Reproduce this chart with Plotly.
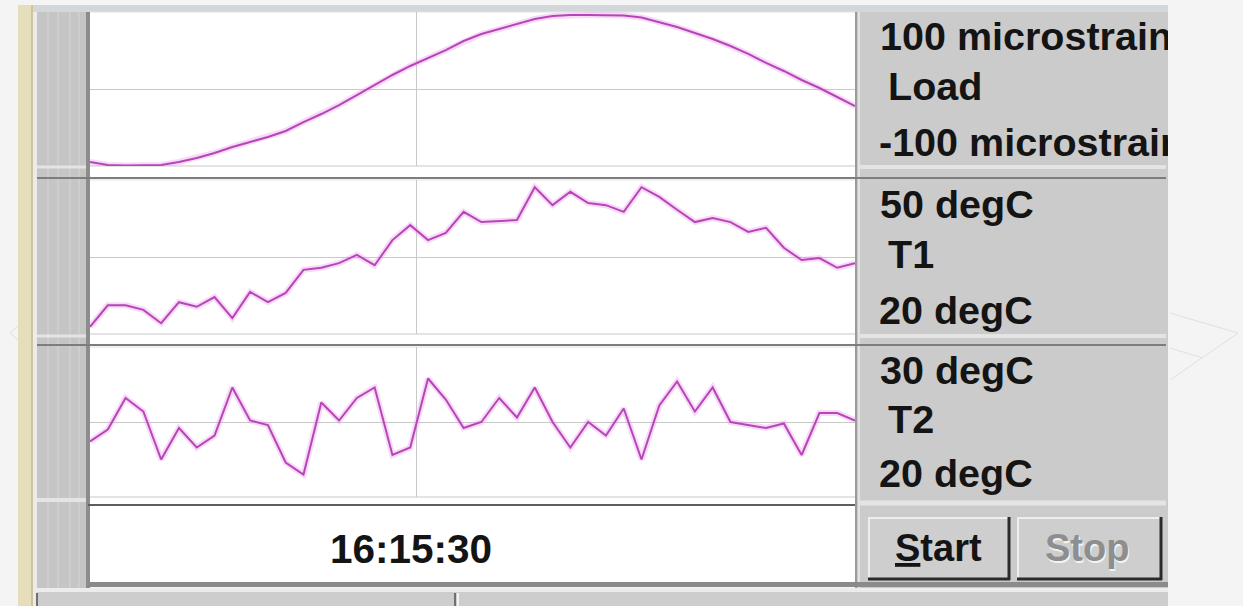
import plotly.graph_objects as go

# ---- recorded samples (one per second) ----
SAMPLE_T = list(range(44))
CURSOR_T = 18.35
CURSOR_LABEL = "16:15:30"

LOAD = [-94.8, -98.7, -99.4, -99.4, -98.7, -94.8, -89.6, -83.1, -75.3, -68.8,
        -62.3, -54.5, -42.9, -32.5, -20.8, -7.8, 5.2, 18.2, 29.9, 40.3,
        50.6, 62.3, 71.4, 77.9, 84.4, 90.9, 94.8, 96.1, 96.1, 96.1,
        95.5, 92.9, 87.0, 80.5, 72.7, 64.9, 55.8, 45.5, 33.8, 23.4,
        11.7, 1.3, -10.4, -22.1]
T1 = [21.4, 25.6, 25.6, 24.7, 22.1, 26.2, 25.3, 27.2, 23.1, 28.2,
      26.2, 28.0, 32.5, 32.9, 33.8, 35.4, 33.4, 38.3, 41.2, 38.3,
      39.7, 43.8, 41.8, 42.0, 42.2, 48.6, 45.1, 47.7, 45.5, 45.1,
      43.8, 48.6, 46.7, 44.2, 41.8, 42.6, 41.8, 39.9, 40.7, 36.8,
      34.4, 34.8, 32.9, 33.8]
T2 = [23.7, 24.5, 26.6, 25.7, 22.5, 24.6, 23.3, 24.1, 27.3, 25.1,
      24.8, 22.3, 21.5, 26.3, 25.1, 26.6, 27.3, 22.8, 23.3, 27.9,
      26.5, 24.6, 25.0, 26.6, 25.3, 27.3, 25.0, 23.3, 25.0, 24.1,
      25.9, 22.5, 26.1, 27.7, 25.7, 27.3, 25.0, 24.8, 24.6, 24.9,
      22.8, 25.6, 25.6, 25.1]

LOAD_RANGE = [-100, 100]
T1_RANGE = [20, 50]
T2_RANGE = [20, 30]

LOAD_LABELS = ["100 microstrain", "Load", "-100 microstrain"]
T1_LABELS = ["50 degC", "T1", "20 degC"]
T2_LABELS = ["30 degC", "T2", "20 degC"]

BUTTONS = ["Start", "Stop"]

# ---- page geometry (pixels) ----
W, H = 1243, 606
PLOT_X0, PLOT_X1 = 90, 855
SIDE_X0, SIDE_X1 = 857, 1168
STRIPS = [(12, 166), (180, 334), (347, 497)]   # top, bottom of each strip
LABEL_ROWS = [0.82, 0.49, 0.13]
LABEL_X = [23, 31, 22]

TRACE = "#b845b8"
HALO = "rgba(232,150,232,0.35)"
GRID = "#c9c9c9"
FONT = "Liberation Sans"


def px(x):
    return x / W


def py(y):
    return 1 - y / H


channels = [
    (LOAD, LOAD_RANGE, LOAD_LABELS),
    (T1, T1_RANGE, T1_LABELS),
    (T2, T2_RANGE, T2_LABELS),
]

fig = go.Figure()
layout_axes = {}

for i, (vals, rng, labels) in enumerate(channels):
    n = i + 1
    sfx = "" if n == 1 else str(n)
    top, bot = STRIPS[i]
    # trace with a soft glow underneath
    fig.add_trace(go.Scatter(x=SAMPLE_T, y=vals, mode="lines", xaxis="x" + sfx, yaxis="y" + sfx,
                             line=dict(color=HALO, width=6), hoverinfo="skip", showlegend=False))
    fig.add_trace(go.Scatter(x=SAMPLE_T, y=vals, mode="lines", xaxis="x" + sfx, yaxis="y" + sfx,
                             line=dict(color=TRACE, width=2), showlegend=False))
    layout_axes["xaxis" + sfx] = dict(
        domain=[px(PLOT_X0), px(PLOT_X1)], range=[SAMPLE_T[0], SAMPLE_T[-1]],
        anchor="y" + sfx, tickvals=[CURSOR_T], showticklabels=False, ticks="",
        showgrid=True, gridcolor=GRID, gridwidth=1, zeroline=False, showline=False,
        fixedrange=True)
    layout_axes["yaxis" + sfx] = dict(
        domain=[py(bot), py(top)], range=rng, anchor="x" + sfx,
        tickvals=[rng[0], (rng[0] + rng[1]) / 2, rng[1]], showticklabels=False, ticks="",
        showgrid=True, gridcolor=GRID, gridwidth=1, zeroline=False, showline=False,
        fixedrange=True)

    # scale / channel labels in the side panel, clipped at its edge
    ly = 4 + i
    fig.add_trace(go.Scatter(x=LABEL_X, y=LABEL_ROWS, text=labels, mode="text",
                             textposition="middle right", cliponaxis=True,
                             textfont=dict(family=FONT, size=39.5, color="#141414", weight="bold"),
                             xaxis="x4", yaxis="y" + str(ly), hoverinfo="skip", showlegend=False))
    layout_axes["yaxis" + str(ly)] = dict(
        domain=[py(bot), py(top)], range=[0, 1], anchor="x4", showgrid=False,
        showticklabels=False, zeroline=False, showline=False, ticks="", fixedrange=True)

layout_axes["xaxis4"] = dict(domain=[px(SIDE_X0), px(SIDE_X1)], range=[0, SIDE_X1 - SIDE_X0],
                             anchor="y4", showgrid=False, showticklabels=False, zeroline=False,
                             showline=False, ticks="", fixedrange=True)

shapes = []


def rect(x0, y0, x1, y1, fill, layer="below"):
    shapes.append(dict(type="rect", xref="paper", yref="paper", x0=px(x0), x1=px(x1),
                       y0=py(y1), y1=py(y0), fillcolor=fill, line=dict(width=0), layer=layer))


def seg(x0, y0, x1, y1, color, width=1, layer="below"):
    shapes.append(dict(type="line", xref="paper", yref="paper", x0=px(x0), x1=px(x1),
                       y0=py(y0), y1=py(y1), line=dict(color=color, width=width), layer=layer))


# window frame
rect(18, 5, 33, 606, "#e6ddba")
rect(31, 5, 33, 606, "#cfc49c")
rect(33, 5, 37, 606, "#ebebeb")
rect(33, 5, 1168, 12, "#d3d6db")
rect(37, 12, 88, 592, "#c5c5c5")
for sx in (48, 58, 70, 79):
    seg(sx, 12, sx, 590, "#cdcdcd", 2)
rect(86, 12, 90, 588, "#8c8c8c")
rect(90, 12, PLOT_X1, 583, "#ffffff")
rect(PLOT_X1, 12, 1168, 592, "#cbcbcb")
seg(PLOT_X1 + 1, 12, PLOT_X1 + 1, 590, "#9a9a9a", 2)
seg(PLOT_X1 + 4, 12, PLOT_X1 + 4, 590, "#e2e2e2", 2)

# outer grid lines of each strip (the axes leave the edge ones out)
for top, bot in STRIPS:
    seg(PLOT_X0, bot, PLOT_X1, bot, GRID, 1)
    seg(PLOT_X0, top, PLOT_X1, top, "#e2e2e2", 1)

# strip separators
for ysep, ylight in ((178, 167), (345, 336)):
    seg(37, ylight, 86, ylight, "#e4e4e4", 3)
    seg(PLOT_X1 + 4, ylight, 1166, ylight, "#e4e4e4", 4)
    seg(37, ysep, 1166, ysep, "#7d7d7d", 2)
seg(37, 500, 86, 500, "#e4e4e4", 4)
seg(PLOT_X1 + 4, 503, 1166, 503, "#e4e4e4", 5)
seg(88, 505, PLOT_X1, 505, "#5e5e5e", 2)

# bottom edge and status bar
rect(88, 582, 1168, 587, "#8a8a8a")
rect(33, 588, 1168, 592, "#ececec")
rect(37, 592, 1168, 606, "#cdcdcd")
seg(37, 593, 37, 606, "#6f6f6f", 2)
seg(455, 593, 455, 606, "#6f6f6f", 2)
seg(458, 593, 458, 606, "#f2f2f2", 2)

# push buttons
for bx0, bx1 in ((868, 1010), (1017, 1162)):
    rect(bx0, 517, bx1, 580, "#cecece")
    seg(bx0, 518, bx1, 518, "#eeeeee", 2)
    seg(bx0 + 1, 517, bx0 + 1, 580, "#eeeeee", 2)
    seg(bx0, 579, bx1, 579, "#2a2a2a", 3)
    seg(bx1 - 1, 517, bx1 - 1, 580, "#2a2a2a", 3)

# faint background chevrons
seg(1170, 313, 1238, 333, "#e0e0e0", 1)
seg(1238, 333, 1170, 380, "#e0e0e0", 1)
seg(1170, 348, 1203, 358, "#e0e0e0", 1)
seg(18, 326, 10, 333, "#e0e0e0", 1)
seg(10, 333, 18, 340, "#e0e0e0", 1)

annotations = [
    dict(text="<b>" + CURSOR_LABEL + "</b>", x=px(411), y=py(549), xref="paper", yref="paper",
         showarrow=False, xanchor="center", yanchor="middle",
         font=dict(family=FONT, size=40.5, color="#141414")),
    dict(text="<b><u>" + BUTTONS[0][0] + "</u>" + BUTTONS[0][1:] + "</b>", x=px(939), y=py(548),
         xref="paper", yref="paper", showarrow=False, xanchor="center", yanchor="middle",
         font=dict(family=FONT, size=38, color="#141414")),
    dict(text="<b>" + BUTTONS[1] + "</b>", x=px(1088), y=py(549.5), xref="paper", yref="paper",
         showarrow=False, xanchor="center", yanchor="middle",
         font=dict(family=FONT, size=38, color="#f4f4f4")),
    dict(text="<b>" + BUTTONS[1] + "</b>", x=px(1086.5), y=py(548), xref="paper", yref="paper",
         showarrow=False, xanchor="center", yanchor="middle",
         font=dict(family=FONT, size=38, color="#8e8e8e")),
]

fig.update_layout(
    width=W, height=H, margin=dict(l=0, r=0, t=0, b=0),
    paper_bgcolor="#f4f4f4", plot_bgcolor="rgba(0,0,0,0)",
    showlegend=False, shapes=shapes, annotations=annotations,
    hovermode=False, **layout_axes)

fig.write_html("out.html", config={"displayModeBar": False})
